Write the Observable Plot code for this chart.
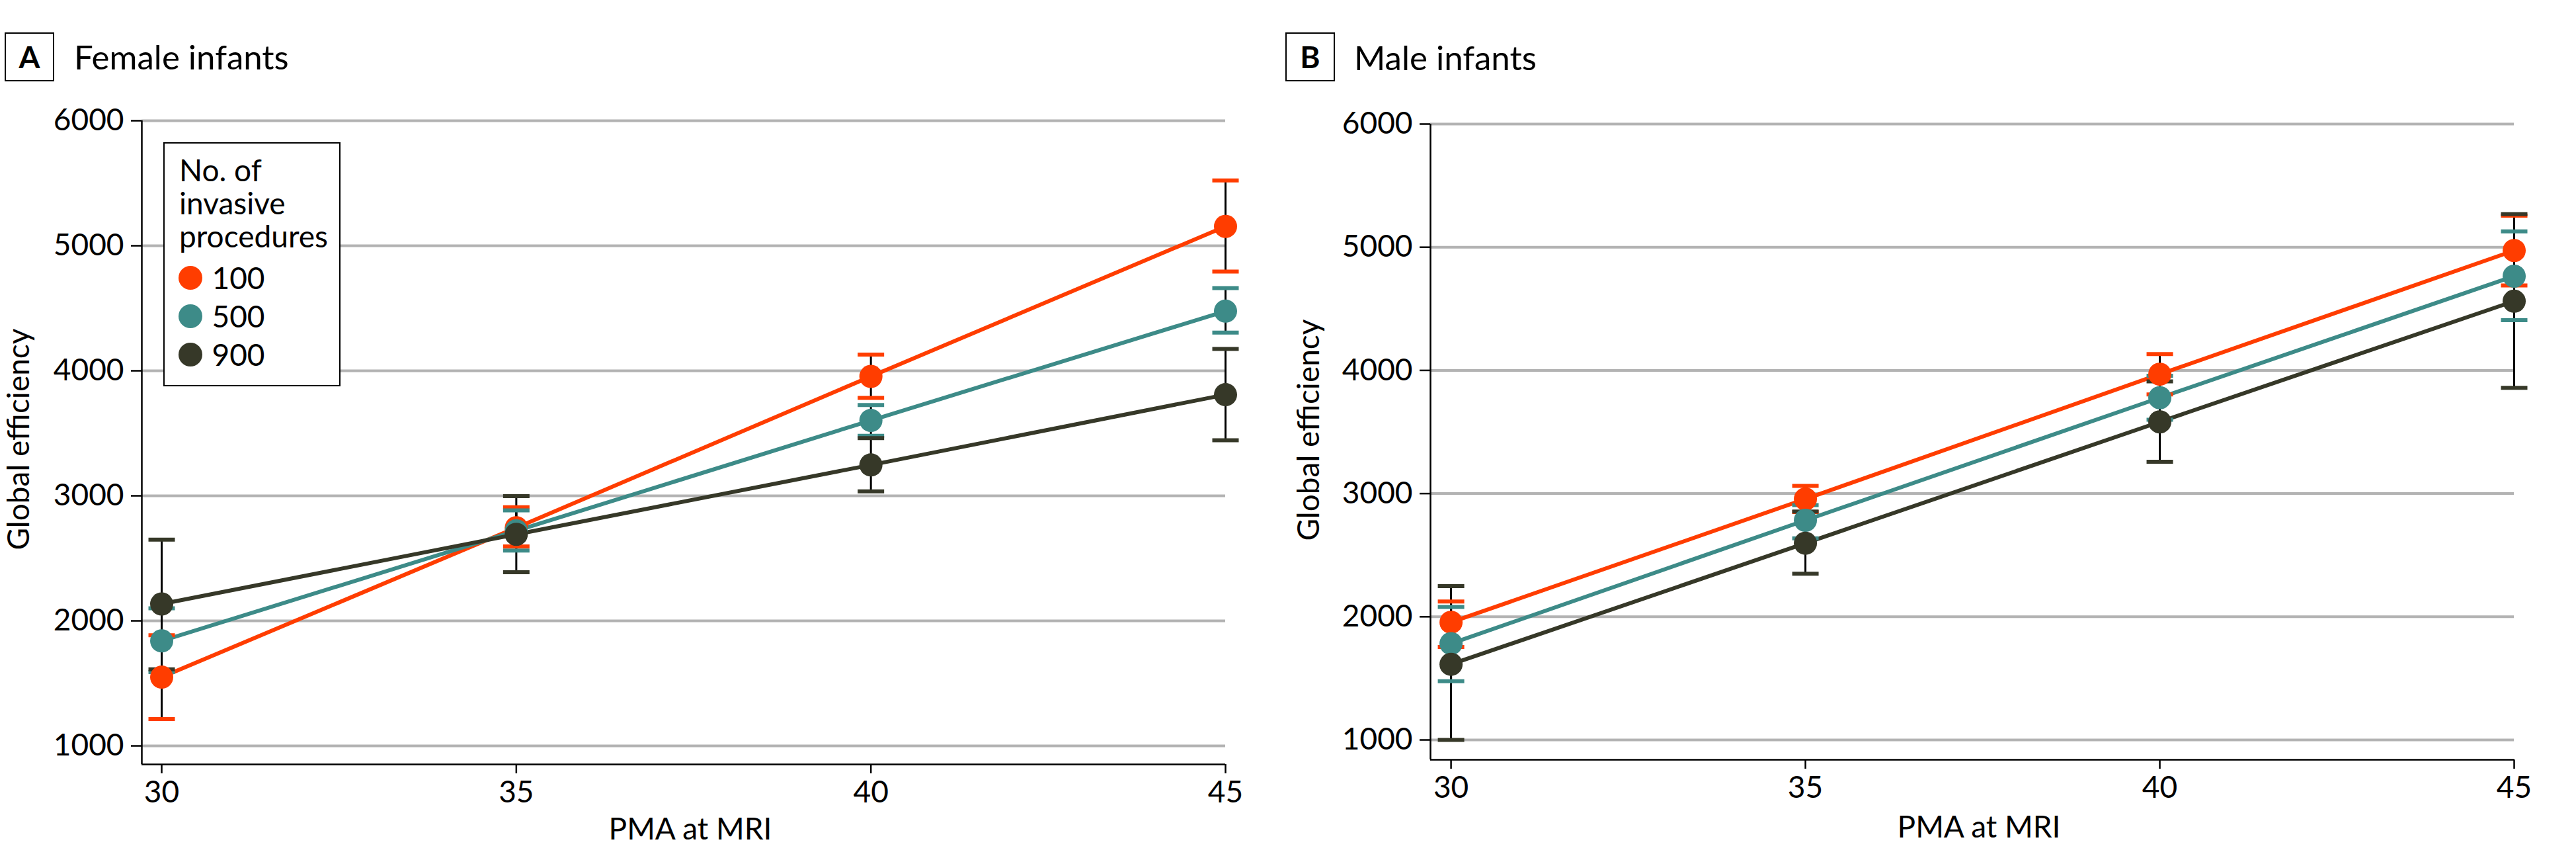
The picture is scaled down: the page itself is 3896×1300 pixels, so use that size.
<!DOCTYPE html>
<html>
<head>
<meta charset="utf-8">
<script src="https://cdn.jsdelivr.net/npm/d3@7"></script>
<script src="https://cdn.jsdelivr.net/npm/@observablehq/plot@0.6"></script>
<style>
  html, body { margin: 0; padding: 0; background: #fff; }
  #root { position: relative; width: 3896px; height: 1300px; overflow: hidden; background: #fff; font-family: Lato, "Noto Sans", sans-serif; color: #000; }
  .panel { position: absolute; top: 0; }
  .tagbox { position: absolute; width: 75px; height: 74px; box-sizing: border-box; border: 2.5px solid #000; display: flex; align-items: center; justify-content: center; font-weight: 700; font-size: 46px; line-height: 46px; }
  .title { position: absolute; font-size: 51px; line-height: 51px; white-space: nowrap; }
  #legend { position: absolute; left: 247px; top: 215px; width: 268px; height: 369px; box-sizing: border-box; border: 2.5px solid #000; background: #fff; font-size: 46px; }
  #legend .lt { position: absolute; left: 22px; top: 14.7px; line-height: 50px; white-space: nowrap; }
  #legend .row { position: absolute; left: 0; height: 58px; width: 100%; }
  #legend .sw { position: absolute; left: 20.5px; top: 11px; width: 36px; height: 36px; border-radius: 50%; }
  #legend .lab { position: absolute; left: 71.5px; top: 0; line-height: 58px; }
</style>
</head>
<body>
<div id="root">
  <div class="panel" id="panelA" style="left:0px"></div>
  <div class="panel" id="panelB" style="left:1900px"></div>
  <div class="tagbox" style="left:7px;top:49px">A</div>
  <div class="title" style="left:112px;top:60px">Female infants</div>
  <div class="tagbox" style="left:1944px;top:49px">B</div>
  <div class="title" style="left:2048px;top:61px">Male infants</div>
  <div id="legend"></div>
</div>
<script>
// ---- data ----
const pma = [30, 35, 40, 45];
const procedures = ["100", "500", "900"];
const colors = ["#FF3D00", "#3D8B88", "#363828"];
const yTicks = [1000, 2000, 3000, 4000, 5000, 6000];
const xTicks = [30, 35, 40, 45];
const legendTitle = ["No. of", "invasive", "procedures"];
const yLabel = "Global efficiency";
const xLabel = "PMA at MRI";

// Female infants (panel A)
const femaleMean = {
  "100": [1550, 2745, 3955, 5155],
  "500": [1840, 2720, 3603, 4477],
  "900": [2135, 2692, 3247, 3809]
};
const femaleLow = {
  "100": [1215, 2595, 3783, 4794],
  "500": [1590, 2562, 3480, 4306],
  "900": [1613, 2389, 3036, 3445]
};
const femaleHigh = {
  "100": [1885, 2909, 4130, 5523],
  "500": [2100, 2884, 3726, 4662],
  "900": [2650, 2997, 3462, 4174]
};

// Male infants (panel B)
const maleMean = {
  "100": [1955, 2956, 3969, 4973],
  "500": [1782, 2783, 3778, 4765],
  "900": [1614, 2597, 3582, 4562]
};
const maleLow = {
  "100": [1755, 2850, 3805, 4690],
  "500": [1477, 2637, 3600, 4407],
  "900": [1000, 2350, 3258, 3858]
};
const maleHigh = {
  "100": [2124, 3062, 4133, 5256],
  "500": [2080, 2907, 3956, 5128],
  "900": [2249, 2854, 3911, 5268]
};

function table(mean, low, high) {
  const rows = [];
  for (const p of procedures) {
    pma.forEach((x, i) => rows.push({proc: p, pma: x, mean: mean[p][i], lo: low[p][i], hi: high[p][i]}));
  }
  return rows;
}

const capSymbol = { draw(ctx) { ctx.moveTo(-20, 0); ctx.lineTo(20, 0); } };

function panel(data, o) {
  const xMin = o.xDomain[0], xMax = o.xDomain[1];
  const yMin = o.yDomain[0], yMax = o.yDomain[1];
  return Plot.plot({
    width: o.width, height: 1300,
    marginLeft: o.ml, marginRight: o.mr, marginTop: o.mt, marginBottom: o.mb,
    style: {fontFamily: "Lato, 'Noto Sans', sans-serif", fontSize: "46px", color: "#000", background: "transparent", overflow: "visible"},
    x: {domain: o.xDomain},
    y: {domain: o.yDomain},
    color: {domain: procedures, range: colors},
    marks: [
      Plot.ruleY(yTicks, {x1: xMin, x2: xMax, stroke: "#b3b3b3", strokeWidth: 4}),
      Plot.ruleX([xMin], {y1: yMin, y2: yMax, stroke: "#000", strokeWidth: 2.5}),
      Plot.ruleY([yMin], {x1: xMin, x2: xMax, stroke: "#000", strokeWidth: 2.5}),
      Plot.axisY({ticks: yTicks, tickSize: 16, tickPadding: 11, tickFormat: d => String(d), strokeWidth: 2.5, label: null}),
      Plot.axisX({ticks: xTicks, tickSize: 14, tickPadding: 11, tickFormat: d => String(d), strokeWidth: 2.5, label: null}),
      Plot.text([yLabel], {frameAnchor: "left", rotate: -90, dx: o.ylabDx, dy: o.ylabDy, textAnchor: "middle", lineAnchor: "bottom", fontSize: 46}),
      Plot.text([xLabel], {frameAnchor: "bottom", dx: 10, dy: o.xlabDy, textAnchor: "middle", lineAnchor: "bottom", fontSize: 46}),
      Plot.line(data, {x: "pma", y: "mean", z: "proc", stroke: "proc", strokeWidth: 6}),
      Plot.ruleX(data, {x: "pma", y1: "lo", y2: "hi", stroke: "#000", strokeWidth: 3}),
      Plot.dot(data, {x: "pma", y: "lo", stroke: "proc", symbol: capSymbol, strokeWidth: 6}),
      Plot.dot(data, {x: "pma", y: "hi", stroke: "proc", symbol: capSymbol, strokeWidth: 6}),
      Plot.dot(data, {x: "pma", y: "mean", fill: "proc", r: 17.5})
    ]
  });
}

document.getElementById("panelA").append(panel(table(femaleMean, femaleLow, femaleHigh), {
  width: 1900, ml: 214, mr: 47, mt: 182, mb: 145,
  xDomain: [29.72, 45], yDomain: [852, 6000],
  ylabDx: -171, ylabDy: -5, xlabDy: 113
}));
document.getElementById("panelB").append(panel(table(maleMean, maleLow, maleHigh), {
  width: 1996, ml: 263, mr: 94, mt: 187, mb: 152,
  xDomain: [29.71, 45], yDomain: [839, 6000],
  ylabDx: -169, ylabDy: -18, xlabDy: 117
}));

// legend
const lg = document.getElementById("legend");
const lt = document.createElement("div");
lt.className = "lt";
lt.innerHTML = legendTitle.join("<br>");
lg.append(lt);
procedures.forEach((p, i) => {
  const row = document.createElement("div");
  row.className = "row";
  row.style.top = (173.5 + 58 * i) + "px";
  const sw = document.createElement("div");
  sw.className = "sw";
  sw.style.background = colors[i];
  const lab = document.createElement("div");
  lab.className = "lab";
  lab.textContent = p;
  row.append(sw, lab);
  lg.append(row);
});
</script>
</body>
</html>
